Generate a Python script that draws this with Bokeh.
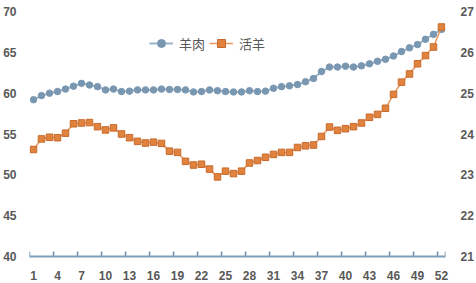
from bokeh.plotting import figure
from bokeh.models import (Range1d, LinearAxis, FixedTicker, Legend, LegendItem,
                          ColumnDataSource)
from bokeh.embed import file_html
from bokeh.resources import INLINE

weeks = list(range(1, 53))
mutton = [59.2, 59.7, 60.0, 60.2, 60.5, 60.85, 61.2, 61.0, 60.8, 60.4,
          60.5, 60.2, 60.25, 60.4, 60.4, 60.4, 60.5, 60.45, 60.45, 60.4,
          60.15, 60.2, 60.4, 60.3, 60.2, 60.15, 60.15, 60.3, 60.2, 60.25,
          60.6, 60.8, 60.9, 61.05, 61.4, 61.8, 62.65, 63.2, 63.2, 63.3,
          63.2, 63.35, 63.6, 63.9, 64.15, 64.55, 65.1, 65.55, 65.95, 66.6,
          67.2, 67.8]
live = [23.62, 23.88, 23.92, 23.91, 24.02, 24.25, 24.27, 24.28, 24.18, 24.1,
        24.15, 24.0, 23.91, 23.82, 23.78, 23.8, 23.77, 23.58, 23.55, 23.33,
        23.24, 23.26, 23.14, 22.95, 23.09, 23.03, 23.09, 23.29, 23.35, 23.43,
        23.5, 23.55, 23.55, 23.67, 23.71, 23.73, 23.94, 24.17, 24.09, 24.13,
        24.18, 24.27, 24.41, 24.48, 24.63, 24.97, 25.27, 25.47, 25.72, 25.92,
        26.13, 26.62]
x_ticks = list(range(1, 53, 3))
x_boundaries = [t - 0.5 for t in x_ticks] + [52.5]
left_ticks = [40, 45, 50, 55, 60, 65, 70]
right_ticks = [21, 22, 23, 24, 25, 26, 27]
names = ["羊肉", "活羊"]

src = ColumnDataSource(dict(week=weeks, mutton=mutton, live=live))
tick_src = ColumnDataSource(dict(x=x_boundaries,
                                 ya=[left_ticks[0]] * len(x_boundaries),
                                 yb=[left_ticks[0] + 0.6] * len(x_boundaries)))

p = figure(width=476, height=283, output_backend="svg", toolbar_location=None,
           x_range=Range1d(0.5, 52.5), y_range=Range1d(40, 70),
           min_border_left=28, min_border_right=29, min_border_top=11,
           min_border_bottom=27)
p.extra_y_ranges = {"right": Range1d(21, 27)}
p.outline_line_color = None
p.grid.visible = False
p.background_fill_color = "white"
p.border_fill_color = "white"

label_color = "#595959"
font = "Liberation Sans"
axis_col = "#7F9CB8"

# x axis
xa = p.xaxis[0]
xa.ticker = FixedTicker(ticks=x_ticks)
xa.major_tick_line_color = None
xa.minor_tick_line_color = None
xa.axis_line_color = axis_col
xa.axis_line_width = 2
xa.major_label_text_font = font
xa.major_label_text_font_style = "bold"
xa.major_label_text_font_size = "12px"
xa.major_label_text_color = label_color
xa.major_label_standoff = 8

# category boundary tick marks standing on the x axis
p.segment(x0="x", y0="ya", x1="x", y1="yb", source=tick_src,
          line_color="#6E8CA8", line_width=1.5)

# left axis
ya = p.yaxis[0]
ya.ticker = FixedTicker(ticks=left_ticks)
ya.axis_line_color = None
ya.major_tick_line_color = None
ya.minor_tick_line_color = None
ya.major_label_text_font = font
ya.major_label_text_font_style = "bold"
ya.major_label_text_font_size = "12px"
ya.major_label_text_color = label_color
ya.major_label_standoff = 7

ra = LinearAxis(y_range_name="right", ticker=FixedTicker(ticks=right_ticks))
ra.axis_line_color = None
ra.major_tick_line_color = None
ra.minor_tick_line_color = None
ra.major_label_text_font = font
ra.major_label_text_font_style = "bold"
ra.major_label_text_font_size = "12px"
ra.major_label_text_color = label_color
ra.major_label_standoff = 9
p.add_layout(ra, "right")

blue_line = "#9AB2C8"
blue_pt = "#7A97B2"
orange_line = "#E9965A"
orange_pt = "#E0833F"

l1 = p.line("week", "mutton", source=src, line_color=blue_line, line_width=2)
s1 = p.scatter("week", "mutton", source=src, marker="circle", size=6.5,
               fill_color=blue_pt, line_color=blue_pt)
l2 = p.line("week", "live", source=src, y_range_name="right",
            line_color=orange_line, line_width=1.5)
s2 = p.scatter("week", "live", source=src, y_range_name="right", marker="square",
               size=6.5, fill_color=orange_pt, line_color="#C8692A", line_width=1)

legend = Legend(items=[LegendItem(label=names[0], renderers=[l1, s1]),
                       LegendItem(label=names[1], renderers=[l2, s2])],
                orientation="horizontal", location=(120, 203),
                background_fill_alpha=0, border_line_color=None,
                label_text_font="Noto Sans CJK SC", label_text_font_size="13px",
                label_text_color=label_color, glyph_width=24, spacing=4,
                label_standoff=6, padding=4, margin=0)
p.add_layout(legend, "center")

open("out.html", "w").write(file_html(p, INLINE))
